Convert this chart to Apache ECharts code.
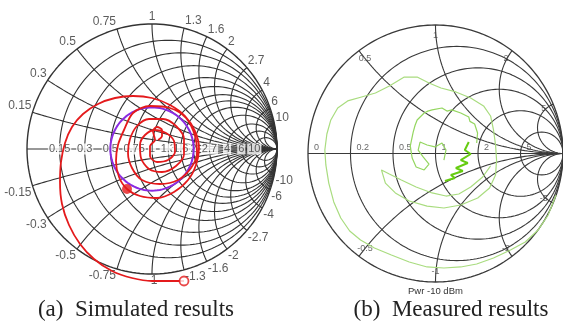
<!DOCTYPE html>
<html><head><meta charset="utf-8">
<script src="https://cdn.jsdelivr.net/npm/echarts@6/dist/echarts.min.js"></script>
<style>html,body{margin:0;padding:0;background:#fff}#c{width:563px;height:324px}</style>
</head><body><div id="c"></div>
<script>
// ---------- data ----------
const simResist = [0.15, 0.3, 0.5, 0.75, 1, 1.3, 1.6, 2, 2.7, 4, 6, 10];
const simReact  = [0.15, 0.3, 0.5, 0.75, 1, 1.3, 1.6, 2, 2.7, 4, 6, 10];
const simRe = [0.256,0.128,0,-0.16,-0.32,-0.464,-0.576,-0.664,-0.72,-0.736,-0.728,-0.696,-0.64,-0.552,-0.432,-0.296,-0.152,0,0.144,0.264,0.344,0.376,0.352,0.288,0.176,0.04,-0.096,-0.2,
  -0.264,-0.288,-0.272,-0.224,-0.152,-0.016,0.144,0.272,0.344,0.36,0.312,0.208,0.064,-0.08,-0.16,-0.192,
  -0.176,-0.12,-0.024,0.088,0.192,0.256,0.256,0.192,0.08,-0.024,-0.088,-0.096,
  -0.056,0.024,0.112,0.176,0.184,0.128,0.04,-0.016,-0.016,0.024,
  0.008,0.04,0.08,0.08,0.048];
const simIm = [-1.056,-1.056,-1.056,-1.032,-0.976,-0.88,-0.76,-0.608,-0.44,-0.264,-0.104,0.048,0.176,0.28,0.36,0.408,0.424,0.408,0.352,0.264,0.144,0.008,-0.128,-0.248,-0.344,-0.392,-0.376,-0.32,
  -0.224,-0.096,0.032,0.152,0.288,0.344,0.328,0.248,0.104,-0.032,-0.152,-0.248,-0.28,-0.248,-0.152,-0.032,
  0.08,0.184,0.24,0.24,0.184,0.08,-0.04,-0.136,-0.184,-0.16,-0.072,0.032,
  0.112,0.152,0.128,0.064,-0.024,-0.088,-0.104,-0.056,0.024,0.072,
  0.144,0.176,0.152,0.104,0.072];
const simStartIndex = 27;           // filled marker
const vswrCircle = 2;

const measResist = [0.2, 0.5, 1, 2, 5];
const measReact  = [0.5, 1, 2, 5];
const measOuterRe = [0.946,0.883,0.805,0.704,0.588,0.455,0.323,0.198,0.066,-0.066,-0.206,-0.346,-0.479,-0.588,-0.673,-0.743,-0.798,-0.837,-0.86,-0.868,-0.852,-0.821,-0.767,-0.689,-0.58,-0.471,-0.362,-0.245,-0.144,-0.051,0.043,0.16,0.276,0.377,0.432,0.455,0.471,0.479,0.471,0.424,0.331,0.198,0.066,-0.066,-0.206,-0.315,-0.393,-0.424,-0.362,-0.268,-0.152,-0.027,0.082,0.183,0.276,0.37,0.432];
const measOuterIm = [-0.323,-0.479,-0.595,-0.689,-0.751,-0.813,-0.86,-0.883,-0.891,-0.883,-0.844,-0.79,-0.735,-0.673,-0.603,-0.502,-0.377,-0.23,-0.089,0.027,0.152,0.261,0.354,0.409,0.44,0.471,0.525,0.595,0.595,0.549,0.51,0.479,0.432,0.37,0.292,0.183,0.066,-0.051,-0.167,-0.268,-0.346,-0.401,-0.424,-0.409,-0.37,-0.307,-0.23,-0.128,-0.16,-0.206,-0.261,-0.307,-0.331,-0.315,-0.261,-0.183,-0.097];
const measInnerRe = [0.323,0.33,0.307,0.27,0.261,0.198,0.128,0.09,0.051,-0.027,-0.06,-0.089,-0.144,-0.16,-0.175,-0.198,-0.183,-0.152,-0.089,-0.051,-0.097,-0.136,-0.121,-0.066,-0.004,0.051,0.082,0.066];
const measInnerIm = [0.082,0.16,0.23,0.25,0.284,0.315,0.339,0.33,0.354,0.339,0.33,0.315,0.261,0.22,0.167,0.058,-0.035,-0.105,-0.128,-0.082,-0.027,0.027,0.089,0.066,0.051,0.082,0.027,-0.051];
const measSpikeRe = [0.261,0.23,0.276,0.198,0.253,0.16,0.214,0.121,0.152,0.074];
const measSpikeIm = [0.089,0.027,-0.004,-0.051,-0.074,-0.113,-0.136,-0.167,-0.191,-0.214];

const captions = ['(a)  Simulated results', '(b)  Measured results'];
const powerLabel = 'Pwr -10 dBm';

// ---------- helpers ----------
function resistCircle(r){
  const cx = r/(1+r), rad = 1/(1+r), pts=[];
  for(let i=0;i<=200;i++){const t=2*Math.PI*i/200; pts.push([cx+rad*Math.cos(t), rad*Math.sin(t)]);}
  return pts;
}
function reactEnd(x){ const d=x*x+1; return [(x*x-1)/d, 2*x/d]; }
function reactArc(x){
  const ax=Math.abs(x), cy=1/ax, rad=1/ax, e=reactEnd(ax);
  let te=Math.atan2(e[1]-cy, e[0]-1); if(te>-Math.PI/2) te-=2*Math.PI;
  const pts=[], n=160, s=x<0?-1:1;
  for(let i=0;i<=n;i++){const t=-Math.PI/2+(te+Math.PI/2)*i/n; pts.push([1+rad*Math.cos(t), s*(cy+rad*Math.sin(t))]);}
  return pts;
}
function zip(a,b){return a.map((v,i)=>[v,b[i]]);}
function line(gi,data,color,width,z){
  return {type:'line',xAxisIndex:gi,yAxisIndex:gi,data,showSymbol:false,symbol:'none',silent:true,
    lineStyle:{color,width},z,animation:false,clip:false};
}
function labels(gi,items,font,z){
  return {type:'scatter',xAxisIndex:gi,yAxisIndex:gi,symbolSize:1,itemStyle:{color:'rgba(0,0,0,0)'},silent:true,z,animation:false,clip:false,
    data:items.map(it=>({value:it.p,name:it.t,label:Object.assign({show:true,position:'inside',formatter:'{b}'},font,it.l||{})}))};
}

const series=[];
// ---- left chart grid ----
const gL='#333';
series.push(line(0,resistCircle(0),gL,1.4,2));
series.push(line(0,[[-1,0],[1,0]],gL,1.1,2));
simResist.forEach(r=>series.push(line(0,resistCircle(r),gL,1.1,2)));
simReact.forEach(x=>{series.push(line(0,reactArc(x),gL,1.1,2));series.push(line(0,reactArc(-x),gL,1.1,2));});
// left labels
const lFont={fontFamily:'Liberation Sans',fontSize:12,color:'#333'};
const lItems=[];
simResist.forEach(r=>lItems.push({p:[(r-1)/(r+1),0],t:String(r),l:{backgroundColor:'#fff',padding:[0,1],fontSize:11}}));
simReact.forEach(x=>{
  [x,-x].forEach(v=>{
    const e=reactEnd(v);
    const align=e[0]<-0.12?'right':(e[0]>0.12?'left':'center');
    lItems.push({p:e,t:String(v),l:{align,verticalAlign:v>0?'bottom':'top',offset:[align==='right'?-1:(align==='left'?1:0),v>0?-1:1]}});
  });
});
series.push(labels(0,lItems,lFont,3));
// left traces
const vr=(vswrCircle-1)/(vswrCircle+1), vs=[];
for(let i=0;i<=200;i++){const t=2*Math.PI*i/200;vs.push([vr*Math.cos(t),vr*Math.sin(t)]);}
series.push(line(0,vs,'#8a2be2',2,5));
const simPts=zip(simRe,simIm);
series.push(Object.assign(line(0,simPts,'#e41a1c',1.8,6),{smooth:0.3}));
series.push({type:'scatter',xAxisIndex:0,yAxisIndex:0,silent:true,z:7,animation:false,clip:false,data:[
  {value:simPts[simStartIndex],symbolSize:10,itemStyle:{color:'#e41a1c'}},
  {value:simPts[0],symbolSize:9,itemStyle:{color:'#fff',borderColor:'#e41a1c',borderWidth:1.8}}]});

// ---- right chart grid ----
const gR='#3a3a3a';
series.push(line(1,resistCircle(0),gR,1.3,2));
series.push(line(1,[[-1,0],[1,0]],gR,1.1,2));
measResist.forEach(r=>series.push(line(1,resistCircle(r),gR,1.1,2)));
measReact.forEach(x=>{series.push(line(1,reactArc(x),gR,1.1,2));series.push(line(1,reactArc(-x),gR,1.1,2));});
const rFont={fontFamily:'Liberation Sans',fontSize:9,color:'#444'};
const rItems=[{p:[-1,0],t:'0',l:{align:'left',offset:[6,-6]}}];
measResist.forEach(r=>rItems.push({p:[(r-1)/(r+1),0],t:String(r),l:{align:'left',offset:[6,-6]}}));
measReact.forEach(x=>{[x,-x].forEach(v=>{const e=reactEnd(v);rItems.push({p:[e[0]*0.92,e[1]*0.92],t:String(v)});});});
series.push(labels(1,rItems,rFont,3));
// measured traces
series.push(line(1,zip(measOuterRe,measOuterIm),'#a9dc7f',1.2,6));
series.push(line(1,zip(measInnerRe,measInnerIm),'#94d660',1.2,6));
series.push(line(1,zip(measSpikeRe,measSpikeIm),'#66cc11',2,6));

const chart=echarts.init(document.getElementById('c'),null,{renderer:'canvas'});
chart.setOption({
  animation:false,
  grid:[{left:27,top:24,width:250,height:250},{left:308,top:25,width:257,height:257}],
  xAxis:[{gridIndex:0,type:'value',min:-1,max:1,show:false},{gridIndex:1,type:'value',min:-1,max:1,show:false}],
  yAxis:[{gridIndex:0,type:'value',min:-1,max:1,show:false},{gridIndex:1,type:'value',min:-1,max:1,show:false}],
  series,
  graphic:[
    {type:'text',left:436-28,top:286,style:{text:powerLabel,font:'9.5px "Liberation Sans"',fill:'#333'}},
    {type:'text',x:136,y:310,style:{text:captions[0],font:'23px "Liberation Serif"',fill:'#222',textAlign:'center',textVerticalAlign:'middle'}},
    {type:'text',x:451,y:310,style:{text:captions[1],font:'23px "Liberation Serif"',fill:'#222',textAlign:'center',textVerticalAlign:'middle'}}
  ]
});
</script></body></html>
